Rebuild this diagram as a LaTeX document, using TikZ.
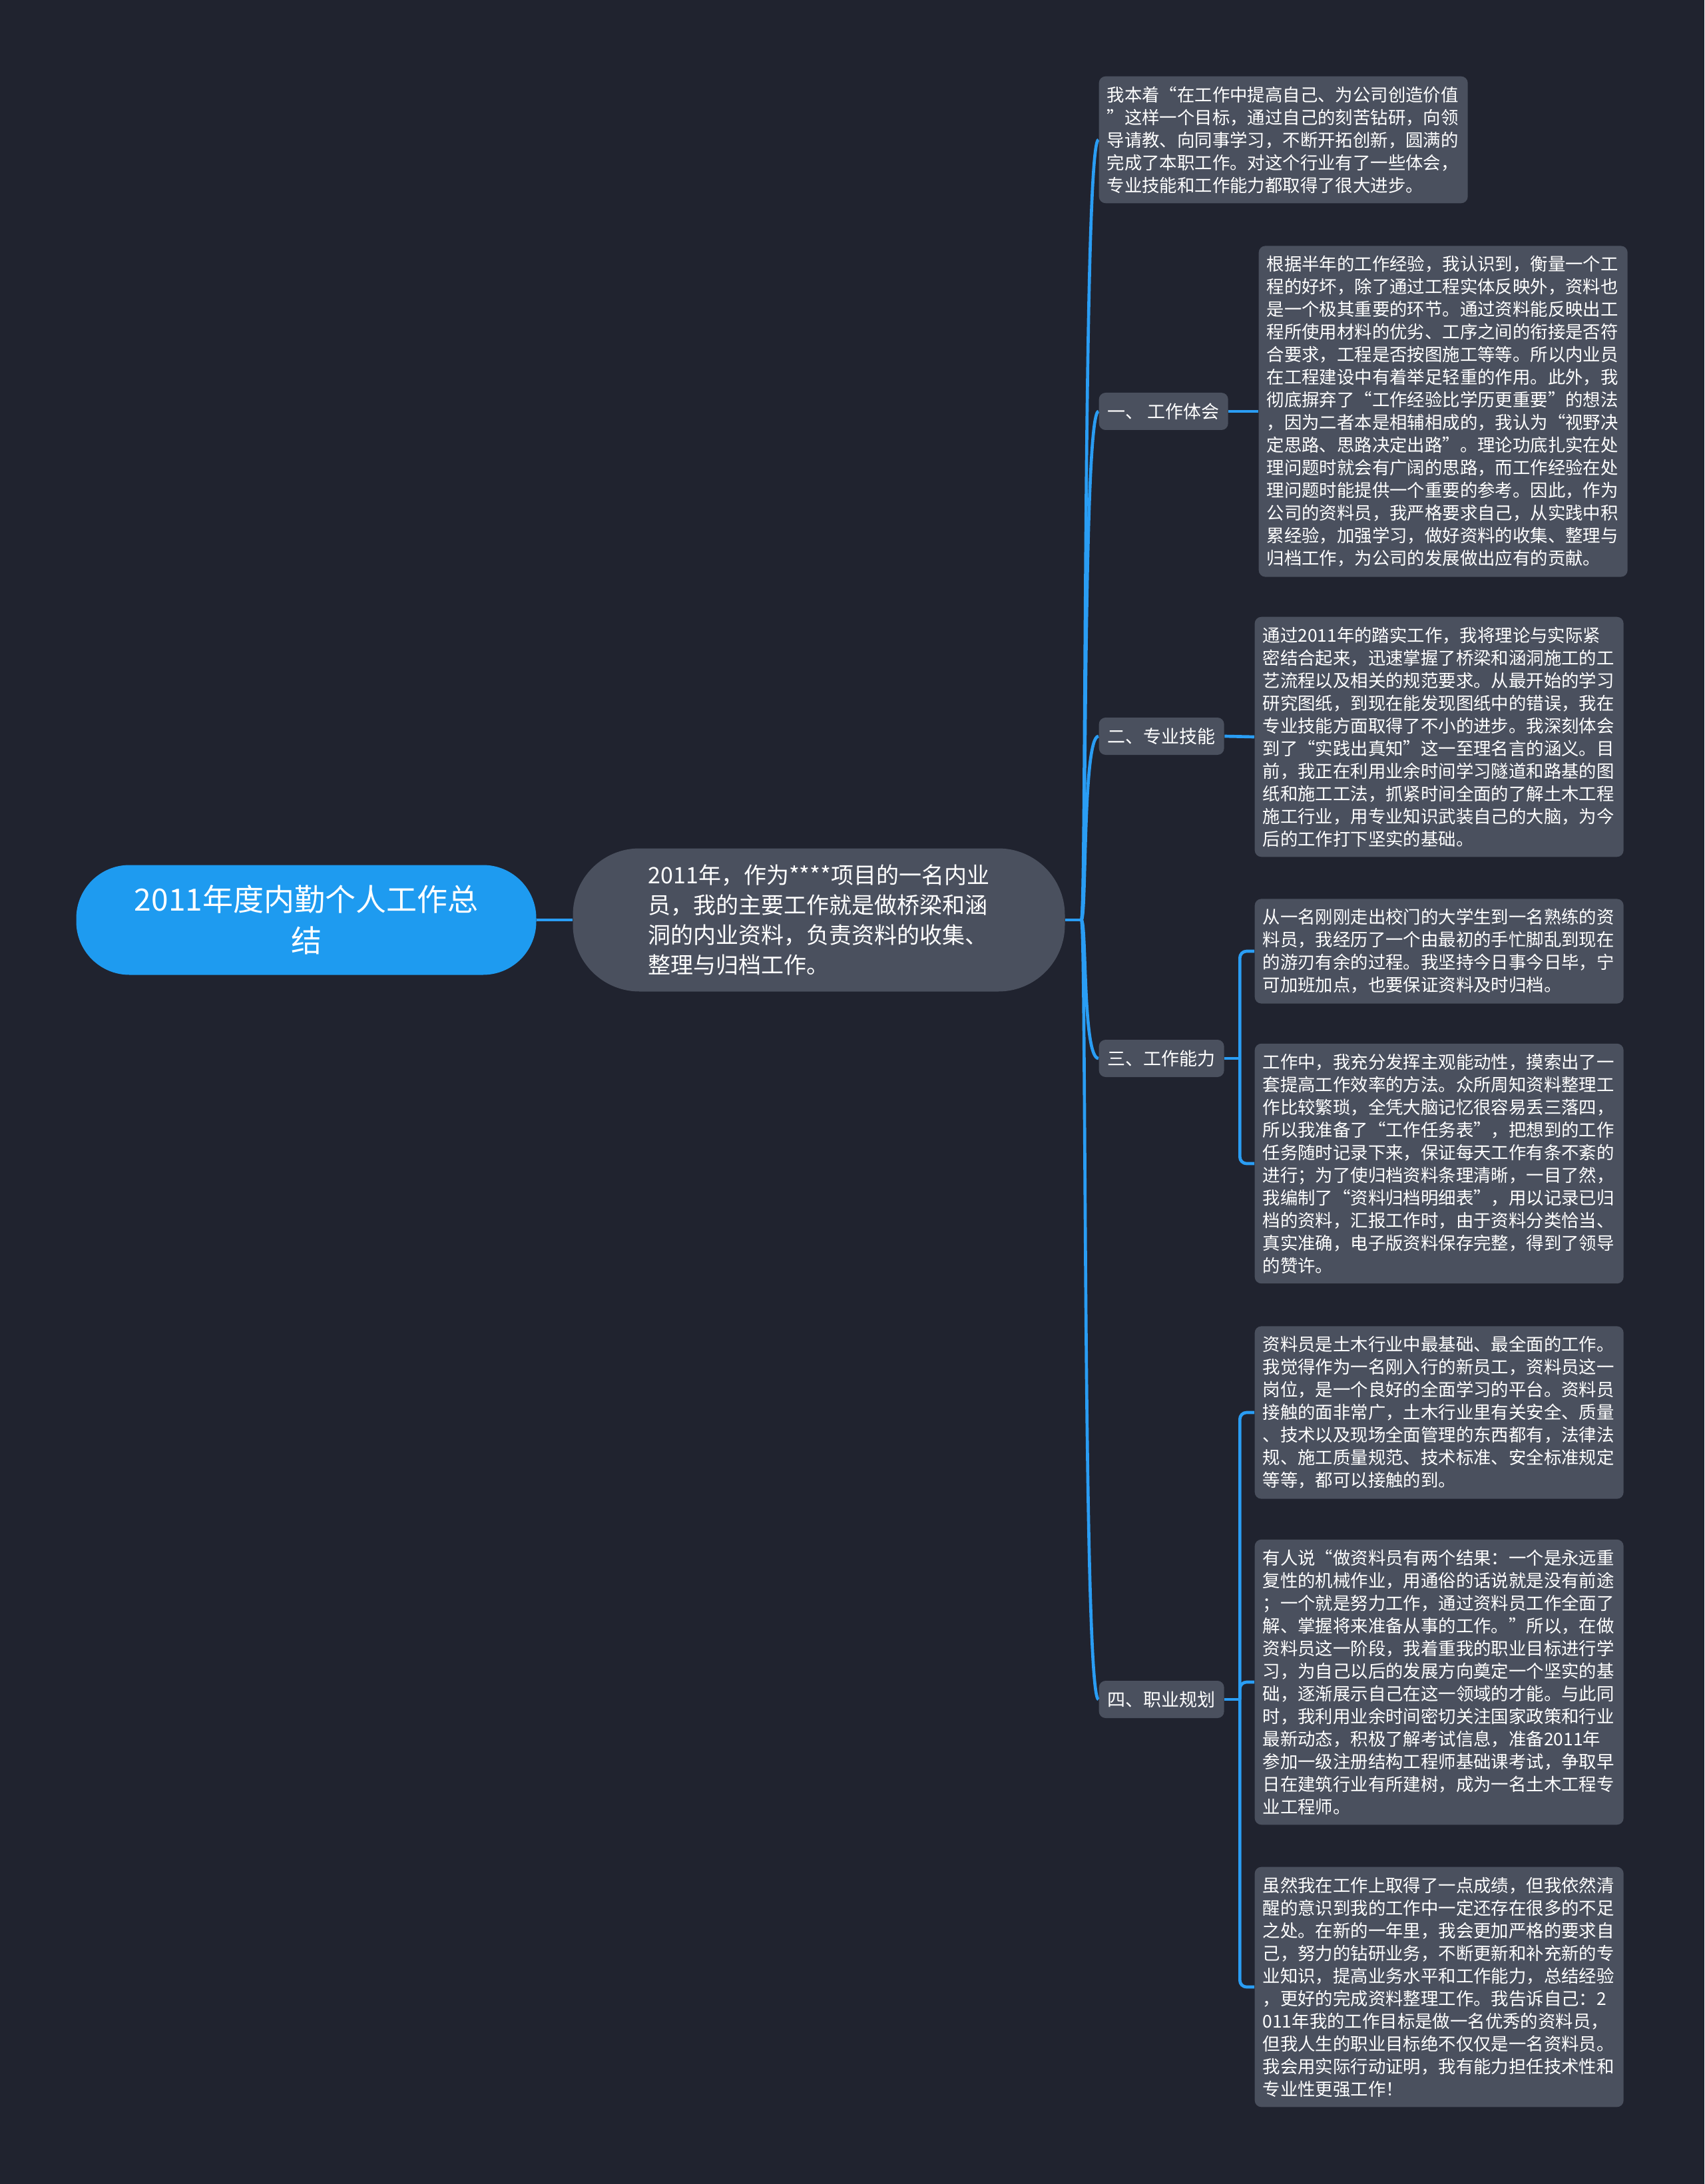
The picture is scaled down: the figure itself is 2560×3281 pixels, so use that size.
\documentclass[tikz,border=0pt]{standalone}
\usepackage{fontspec}
\setmainfont{Noto Sans CJK SC}
\usepackage{xcolor}
\usepackage{tikz}
\usetikzlibrary{positioning}

\definecolor{bgcol}{HTML}{20232F}
\definecolor{rootcol}{HTML}{1E9BF0}
\definecolor{nodecol}{HTML}{4A505E}
\definecolor{linkcol}{HTML}{2A9DF4}

\begin{document}
\begin{tikzpicture}[
  x=0.3pt, y=-0.3pt,
  rootbox/.style={fill=rootcol, text=white, rounded corners=24pt, minimum width=207.3pt, minimum height=49.5pt, align=center, font=\fontsize{13.8}{18.6}\selectfont},
  topicbox/.style={fill=nodecol, text=white, rounded corners=30pt, minimum width=221.7pt, minimum height=64.5pt, align=left, font=\fontsize{10.2}{13.5}\selectfont},
  labelbox/.style={fill=nodecol, text=white, rounded corners=3pt, minimum height=16.8pt, inner xsep=3.9pt, anchor=west, font=\fontsize{8.1}{9}\selectfont},
  leafbox/.style={fill=nodecol, text=white, rounded corners=3pt, text width=159pt, inner xsep=3.6pt, inner ysep=4.5pt, align=left, anchor=west, font=\fontsize{7.92}{10.2}\selectfont},
  link/.style={draw=linkcol, line width=1.4pt},
]
\fill[bgcol] (0,0) rectangle (2560,3281);
\useasboundingbox (0,0) rectangle (2560,3281);

% --- centre ---
\node[rootbox] (root) at (460,1382) {2011年度内勤个人工作总\\结};
\node[topicbox] (topic) at (1230,1382) {2011年，作为****项目的一名内业\\员，我的主要工作就是做桥梁和涵\\洞的内业资料，负责资料的收集、\\整理与归档工作。};
\draw[link] (root.east) -- (topic.west);
\path (topic.east) ++(24,0) coordinate (hub);
\draw[link] (topic.east) -- (hub);

% --- branches ---
\node[leafbox] (intro) at (1650,210) {我本着“在工作中提高自己、为公司创造价值\\”这样一个目标，通过自己的刻苦钻研，向领\\导请教、向同事学习，不断开拓创新，圆满的\\完成了本职工作。对这个行业有了一些体会，\\专业技能和工作能力都取得了很大进步。};
\node[labelbox] (lab1) at (1650,618) {一、 工作体会};
\node[labelbox] (lab2) at (1650,1106) {二、专业技能};
\node[labelbox] (lab3) at (1650,1590) {三、工作能力};
\node[labelbox] (lab4) at (1650,2553) {四、职业规划};
\foreach \n in {intro,lab1,lab2,lab3,lab4}
  \draw[link] (hub) .. controls +(8,0) and +(-24,0) .. (\n.west);

% --- 一、工作体会 ---
\node[leafbox] (exp) at (1890,618) {根据半年的工作经验，我认识到，衡量一个工\\程的好坏，除了通过工程实体反映外，资料也\\是一个极其重要的环节。通过资料能反映出工\\程所使用材料的优劣、工序之间的衔接是否符\\合要求，工程是否按图施工等等。所以内业员\\在工程建设中有着举足轻重的作用。此外，我\\彻底摒弃了“工作经验比学历更重要”的想法\\，因为二者本是相辅相成的，我认为“视野决\\定思路、思路决定出路”。理论功底扎实在处\\理问题时就会有广阔的思路，而工作经验在处\\理问题时能提供一个重要的参考。因此，作为\\公司的资料员，我严格要求自己，从实践中积\\累经验，加强学习，做好资料的收集、整理与\\归档工作，为公司的发展做出应有的贡献。};
\draw[link] (lab1.east) -- (exp.west);

% --- 二、专业技能 ---
\node[leafbox] (skill) at (1884,1107) {通过2011年的踏实工作，我将理论与实际紧\\密结合起来，迅速掌握了桥梁和涵洞施工的工\\艺流程以及相关的规范要求。从最开始的学习\\研究图纸，到现在能发现图纸中的错误，我在\\专业技能方面取得了不小的进步。我深刻体会\\到了“实践出真知”这一至理名言的涵义。目\\前，我正在利用业余时间学习隧道和路基的图\\纸和施工工法，抓紧时间全面的了解土木工程\\施工行业，用专业知识武装自己的大脑，为今\\后的工作打下坚实的基础。};
\draw[link] (lab2.east) -- (skill.west);

% --- 三、工作能力 ---
\node[leafbox] (abilA) at (1884,1429) {从一名刚刚走出校门的大学生到一名熟练的资\\料员，我经历了一个由最初的手忙脚乱到现在\\的游刃有余的过程。我坚持今日事今日毕，宁\\可加班加点，也要保证资料及时归档。};
\node[leafbox] (abilB) at (1884,1748) {工作中，我充分发挥主观能动性，摸索出了一\\套提高工作效率的方法。众所周知资料整理工\\作比较繁琐，全凭大脑记忆很容易丢三落四，\\所以我准备了“工作任务表”，把想到的工作\\任务随时记录下来，保证每天工作有条不紊的\\进行；为了使归档资料条理清晰，一目了然，\\我编制了“资料归档明细表”，用以记录已归\\档的资料，汇报工作时，由于资料分类恰当、\\真实准确，电子版资料保存完整，得到了领导\\的赞许。};
\draw[link] (lab3.east) -- ++(23,0) coordinate (j3);
\draw[link, rounded corners=3pt] (j3) |- (abilA.west);
\draw[link, rounded corners=3pt] (j3) |- (abilB.west);

% --- 四、职业规划 ---
\node[leafbox] (planA) at (1884,2122) {资料员是土木行业中最基础、最全面的工作。\\我觉得作为一名刚入行的新员工，资料员这一\\岗位，是一个良好的全面学习的平台。资料员\\接触的面非常广，土木行业里有关安全、质量\\、技术以及现场全面管理的东西都有，法律法\\规、施工质量规范、技术标准、安全标准规定\\等等，都可以接触的到。};
\node[leafbox] (planB) at (1884,2527) {有人说“做资料员有两个结果：一个是永远重\\复性的机械作业，用通俗的话说就是没有前途\\；一个就是努力工作，通过资料员工作全面了\\解、掌握将来准备从事的工作。”所以，在做\\资料员这一阶段，我着重我的职业目标进行学\\习，为自己以后的发展方向奠定一个坚实的基\\础，逐渐展示自己在这一领域的才能。与此同\\时，我利用业余时间密切关注国家政策和行业\\最新动态，积极了解考试信息，准备2011年\\参加一级注册结构工程师基础课考试，争取早\\日在建筑行业有所建树，成为一名土木工程专\\业工程师。};
\node[leafbox] (planC) at (1884,2985) {虽然我在工作上取得了一点成绩，但我依然清\\醒的意识到我的工作中一定还存在很多的不足\\之处。在新的一年里，我会更加严格的要求自\\己，努力的钻研业务，不断更新和补充新的专\\业知识，提高业务水平和工作能力，总结经验\\，更好的完成资料整理工作。我告诉自己：2\\011年我的工作目标是做一名优秀的资料员，\\但我人生的职业目标绝不仅仅是一名资料员。\\我会用实际行动证明，我有能力担任技术性和\\专业性更强工作！};
\draw[link] (lab4.east) -- ++(23,0) coordinate (j4);
\draw[link, rounded corners=3pt] (j4) |- (planA.west);
\draw[link, rounded corners=3pt] (j4) |- (planB.west);
\draw[link, rounded corners=3pt] (j4) |- (planC.west);
\end{tikzpicture}
\end{document}
